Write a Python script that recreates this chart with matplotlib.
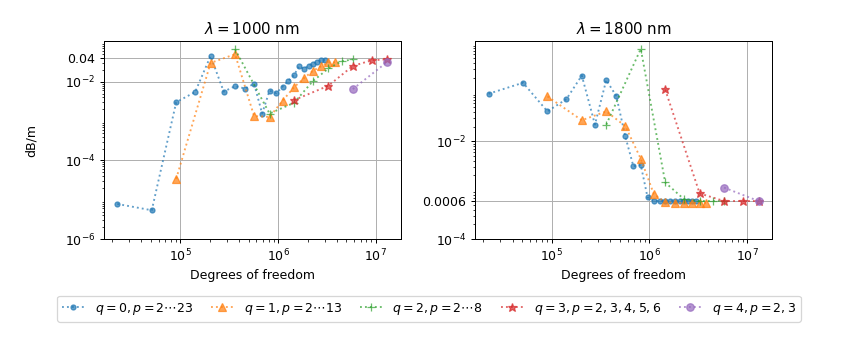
import numpy as np
import matplotlib
matplotlib.use('Agg')
import matplotlib.pyplot as plt

# degrees of freedom for each q, p = 2, 3, ...
dof_q0 = [22700, 51100, 90800, 142000, 204000, 278000, 363000, 460000, 568000, 687000, 818000,
          960000, 1113000, 1278000, 1454000, 1641000, 1840000, 2050000, 2272000, 2505000, 2749000, 3005000]
dof_q1 = [90800, 204000, 363000, 568000, 818000, 1113000, 1454000, 1840000, 2272000, 2749000, 3272000, 3840000]
dof_q2 = [363000, 818000, 1454000, 2272000, 3272000, 4453000, 5816000]
dof_q3 = [1454000, 3272000, 5816000, 9088000, 13090000]
dof_q4 = [5816000, 13090000]

# loss in dB/m, lambda = 1000 nm
loss1000_q0 = [7.8e-6, 5.4e-6, 3.0e-3, 5.5e-3, 4.5e-2, 5.6e-3, 7.7e-3, 6.7e-3, 8.9e-3, 1.55e-3, 5.9e-3,
               5.1e-3, 7.5e-3, 1.06e-2, 1.47e-2, 2.45e-2, 2.1e-2, 2.58e-2, 2.9e-2, 3.2e-2, 3.5e-2, 3.6e-2]
loss1000_q1 = [3.4e-5, 3.0e-2, 5.0e-2, 1.34e-3, 1.27e-3, 3.3e-3, 7.2e-3, 1.23e-2, 1.89e-2, 2.47e-2, 3.1e-2, 3.1e-2]
loss1000_q2 = [6.7e-2, 1.55e-3, 2.9e-3, 1.04e-2, 2.17e-2, 3.3e-2, 3.7e-2]
loss1000_q3 = [3.4e-3, 7.9e-3, 2.52e-2, 3.5e-2, 3.7e-2]
loss1000_q4 = [6.5e-3, 3.2e-2]

# loss in dB/m, lambda = 1800 nm
loss1800_q0 = [0.094, 0.158, 0.041, 0.073, 0.222, 0.022, 0.18, 0.084, 0.0126, 0.0031, 0.0033,
               0.00071, 0.00061, 0.00061, 0.00061, 0.00061, 0.00061, 0.00061, 0.00061, 0.00061, 0.00061, 0.00061]
loss1800_q1 = [0.083, 0.027, 0.041, 0.0205, 0.0044, 0.00083, 0.00057, 0.00055, 0.00055, 0.00055, 0.00055, 0.00055]
loss1800_q2 = [0.022, 0.78, 0.00144, 0.00065, 0.0006, 0.0006, 0.0006]
loss1800_q3 = [0.115, 0.00086, 0.0006, 0.0006, 0.0006]
loss1800_q4 = [0.00113, 0.0006]

labels = [r'$q = 0, p = 2\cdots23$', r'$q = 1, p = 2\cdots13$', r'$q = 2, p = 2\cdots8$',
          r'$q = 3, p = 2, 3, 4, 5, 6$', r'$q = 4, p = 2, 3$']
markers = ['.', '^', '+', '*', 'o']
msizes = [8, 6, 7, 7, 6]

dofs = [dof_q0, dof_q1, dof_q2, dof_q3, dof_q4]
loss1000 = [loss1000_q0, loss1000_q1, loss1000_q2, loss1000_q3, loss1000_q4]
loss1800 = [loss1800_q0, loss1800_q1, loss1800_q2, loss1800_q3, loss1800_q4]

fig, (ax1, ax2) = plt.subplots(1, 2, figsize=(858/90, 343/90), dpi=90)
fig.subplots_adjust(left=0.121, right=0.8998, bottom=0.303, top=0.880, wspace=0.25)

for ax, losses, wl in [(ax1, loss1000, 1000), (ax2, loss1800, 1800)]:
    for i in range(5):
        ax.plot(dofs[i], losses[i], ls=':', marker=markers[i], ms=msizes[i], alpha=0.7,
                color='C%d' % i, label=labels[i])
    ax.set_xscale('log')
    ax.set_yscale('log')
    ax.grid(True, which='major')
    ax.set_title(r'$\lambda = %d$ nm' % wl)
    ax.set_xlabel('Degrees of freedom')

ax1.set_yticks([1e-6, 1e-4, 1e-2, 0.04])
ax1.set_yticklabels([r'$10^{-6}$', r'$10^{-4}$', r'$10^{-2}$', '0.04'])
ax1.set_ylim(bottom=1e-6)
ax1.set_ylabel('dB/m')
ax1.yaxis.set_label_coords(-0.222, 0.5)

ax2.set_yticks([1e-4, 6e-4, 1e-2])
ax2.set_yticklabels([r'$10^{-4}$', '0.0006', r'$10^{-2}$'])
ax2.set_ylim(bottom=1e-4)

h, l = ax1.get_legend_handles_labels()
fig.legend(h, l, loc='center', bbox_to_anchor=(0.5, 0.10), ncol=5,
           columnspacing=1.45, handlelength=1.8)

plt.savefig('out.png', dpi=90)
